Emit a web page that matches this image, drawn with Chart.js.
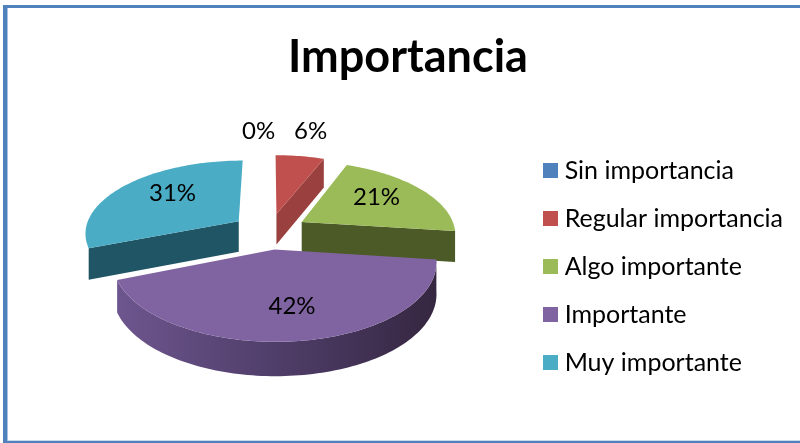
<!DOCTYPE html>
<html>
<head>
<meta charset="utf-8">
<title>Importancia</title>
<script src="https://cdn.jsdelivr.net/npm/chart.js@4"></script>
<style>
    html, body { margin: 0; padding: 0; background: #fff; overflow: hidden; }
    #wrap { position: relative; width: 800px; height: 443px; overflow: hidden; }
    #frame {
        position: absolute; left: 3px; top: 5px; width: 900px; height: 433px;
        border-left: 4px solid #4f81bd; border-top: 3px solid #4f81bd; border-bottom: 2px solid #4f81bd;
        box-shadow: inset 1px 0 0 #a9c1de, inset 0 -1px 0 #c9d8ea;
    }
    canvas { position: absolute; left: 0; top: 0; }
</style>
</head>
<body>
<div id="wrap">
    <div id="frame"></div>
    <canvas id="chart" width="800" height="443"></canvas>
</div>
<script>
const titleText = 'Importancia';
const categories = ['Sin importancia', 'Regular importancia', 'Algo importante', 'Importante', 'Muy importante'];
const percents = [0, 6, 21, 42, 31];

const topColors = ['#4f81bd', '#c0504d', '#9bbb59', '#8064a2', '#4bacc6'];
const wallColors = ['#2f4d71', '#9a403e', '#4b5a26', '#4d3c62', '#1f5564'];

// Look of the tilted pie, all relative to the radius Chart.js computes
const explode = 0.247;
const tilt = 0.47;
const perspective = 0.15;
const depth = 31;
const labelRadius = 0.63;
// Small slices sit their labels outside, measured from the pie centre.
// The others are nudged from their spot on the slice.
const labelShift = [[-11, -100], [41, -100], [-2, -3], [3, 3], [7, -5]];

function projector(arc) {
    const mid = (arc.startAngle + arc.endAngle) / 2;
    const e = arc.outerRadius * explode;
    const offU = Math.cos(mid) * e;
    const offV = Math.sin(mid) * e;
    return function (angle, r, z) {
        const u = offU + r * Math.cos(angle);
        const v = offV + r * Math.sin(angle);
        const s = 1 / (1 - perspective * v / arc.outerRadius);
        return {
            x: arc.x + s * u,
            y: arc.y + s * tilt * v + z * depth * Math.sqrt(s)
        };
    };
}

function fillPath(ctx, points, color) {
    ctx.beginPath();
    points.forEach((p, i) => i ? ctx.lineTo(p.x, p.y) : ctx.moveTo(p.x, p.y));
    ctx.closePath();
    ctx.fillStyle = color;
    ctx.fill();
}

function rimPoints(p, r, from, to, z) {
    const pts = [];
    const steps = Math.max(2, Math.ceil((to - from) * 40));
    for (let i = 0; i <= steps; i++) {
        pts.push(p(from + (to - from) * i / steps, r, z));
    }
    return pts;
}

function drawSlice(ctx, arc, index) {
    const p = projector(arc);
    const r = arc.outerRadius;
    const start = arc.startAngle;
    const end = arc.endAngle;
    const wall = wallColors[index];

    // Radial walls, only the ones that face the viewer
    if (Math.cos(start) < 0) {
        fillPath(ctx, [p(start, 0, 0), p(start, r, 0), p(start, r, 1), p(start, 0, 1)], wall);
    }
    if (Math.cos(end) > 0) {
        fillPath(ctx, [p(end, 0, 0), p(end, r, 0), p(end, r, 1), p(end, 0, 1)], wall);
    }

    // Curved outer wall, only on the slice that points at the viewer
    if (Math.sin((start + end) / 2) > 0.5) {
        const from = Math.max(start, 0);
        const to = Math.min(end, Math.PI);
        const top = rimPoints(p, r, from, to, 0);
        const bottom = rimPoints(p, r, from, to, 1).reverse();
        const grad = ctx.createLinearGradient(arc.x - r * 1.05, 0, arc.x + r * 1.1, 0);
        grad.addColorStop(0, '#6f5790');
        grad.addColorStop(0.5, '#503e6a');
        grad.addColorStop(1, '#352640');
        fillPath(ctx, top.concat(bottom), grad);
    }

    // Top face
    fillPath(ctx, [p(start, 0, 0)].concat(rimPoints(p, r, start, end, 0)), topColors[index]);
}

const pie3d = {
    id: 'pie3d',
    afterLayout(chart) {
        // Legend rows sit lower than the pie centre
        chart.legend.top += 74;
        chart.legend.bottom += 74;
        chart.legend.left -= 7;
        chart.legend.right -= 7;
        // Title is not centred on the canvas either
        chart.titleBlock.left += 5;
        chart.titleBlock.right += 5;
        chart.titleBlock.top += 3;
        chart.titleBlock.bottom += 3;
    },
    beforeDatasetsDraw(chart) {
        const ctx = chart.ctx;
        const arcs = chart.getDatasetMeta(0).data;
        const order = arcs.map((arc, i) => i)
            .filter(i => percents[i] > 0)
            .sort((a, b) => Math.sin((arcs[a].startAngle + arcs[a].endAngle) / 2) - Math.sin((arcs[b].startAngle + arcs[b].endAngle) / 2));

        ctx.save();
        order.forEach(i => drawSlice(ctx, arcs[i], i));

        ctx.fillStyle = '#000';
        ctx.font = '24px Lato';
        ctx.textAlign = 'center';
        ctx.textBaseline = 'middle';
        arcs.forEach((arc, i) => {
            const mid = (arc.startAngle + arc.endAngle) / 2;
            const base = percents[i] < 10 ? arc : projector(arc)(mid, arc.outerRadius * labelRadius, 0);
            ctx.fillText(percents[i] + '%', base.x + labelShift[i][0], base.y + labelShift[i][1]);
        });
        ctx.restore();
        return false;
    }
};

// Square legend swatch that leaves the text closer than a normal Chart.js box would
function swatch(color) {
    const c = document.createElement('canvas');
    c.width = 15;
    c.height = 15;
    const g = c.getContext('2d');
    g.fillStyle = color;
    g.fillRect(0, 0, 15, 15);
    return c;
}

new Chart(document.getElementById('chart'), {
    type: 'pie',
    data: {
        labels: categories,
        datasets: [{
            data: percents,
            backgroundColor: topColors,
            borderWidth: 0,
            hoverOffset: 0
        }]
    },
    plugins: [pie3d],
    options: {
        responsive: false,
        animation: false,
        events: [],
        layout: { padding: { left: 6, right: 0, top: 0, bottom: 58 } },
        plugins: {
            tooltip: { enabled: false },
            title: {
                display: true,
                text: titleText,
                color: '#000',
                font: { family: 'Lato', size: 45, weight: 'bold', lineHeight: 1 },
                padding: { top: 32, bottom: 0 }
            },
            legend: {
                position: 'right',
                labels: {
                    usePointStyle: true,
                    pointStyleWidth: 3,
                    boxHeight: 15,
                    padding: 23,
                    color: '#000',
                    font: { family: 'Lato', size: 25 },
                    generateLabels: () => categories.map((text, i) => ({
                        text: text,
                        fillStyle: topColors[i],
                        pointStyle: swatch(topColors[i]),
                        lineWidth: 0,
                        hidden: false,
                        index: i
                    }))
                }
            }
        }
    }
});
</script>
</body>
</html>
